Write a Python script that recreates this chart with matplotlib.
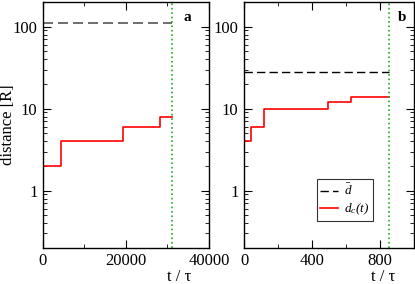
import matplotlib
matplotlib.use('Agg')
import matplotlib.pyplot as plt
from matplotlib.ticker import LogLocator, NullFormatter, MultipleLocator

plt.rcParams['font.family'] = ['Liberation Serif', 'DejaVu Serif']
plt.rcParams['mathtext.fontset'] = 'custom'
plt.rcParams['mathtext.rm'] = 'Liberation Serif:italic'
plt.rcParams['mathtext.it'] = 'Liberation Serif:italic'

# panel a
t_a = [0, 4300, 19300, 28200, 31000]
dc_a = [2, 4, 6, 8, 8]
dbar_a = 110
tend_a = 31000

# panel b
t_b = [0, 0, 40, 118, 495, 630, 855]
dc_b = [2.4, 4, 6, 10, 12, 14, 14]
dbar_b = 28
tend_b = 855

fig = plt.figure(figsize=(4.15, 2.84), dpi=100)
ax1 = fig.add_axes([0.1036, 0.127, 0.400, 0.866])
ax2 = fig.add_axes([0.588, 0.127, 0.410, 0.866])

ax1.plot([0, tend_a], [dbar_a, dbar_a], color='#555555', ls=(0, (6, 3)), lw=1.2)
ax1.step(t_a, dc_a, where='post', color='red', lw=1.2)
ax1.axvline(tend_a, color='#22aa22', ls=':', lw=1.2)
ax1.set_xlim(0, 40000)
ax1.xaxis.set_major_locator(MultipleLocator(20000))
ax1.xaxis.set_minor_locator(MultipleLocator(10000))
ax1.set_ylabel('distance [R]', fontsize=12)
ax1.yaxis.set_label_coords(-0.21, 0.5)
ax1.yaxis.label.set_va('center')
ax1.text(0.87, 0.965, 'a', transform=ax1.transAxes, fontweight='bold', fontsize=11, ha='center', va='top')

ax2.plot([0, tend_b], [dbar_b, dbar_b], color='black', ls=(0, (6, 3)), lw=1.0, label=r'$\bar{d}$')
ax2.step(t_b, dc_b, where='post', color='red', lw=1.2, label=r'$d_c(t)$')
ax2.axvline(tend_b, color='#22aa22', ls=':', lw=1.2)
ax2.set_xlim(0, 1000)
ax2.xaxis.set_major_locator(MultipleLocator(400))
ax2.xaxis.set_minor_locator(MultipleLocator(200))
ax2.text(0.93, 0.965, 'b', transform=ax2.transAxes, fontweight='bold', fontsize=11, ha='center', va='top')
leg = ax2.legend(loc='lower right', bbox_to_anchor=(0.76, 0.11), fontsize=9.5, frameon=True,
                 fancybox=False, edgecolor='black', handlelength=1.3, borderpad=0.3,
                 labelspacing=0.25, handletextpad=0.5, borderaxespad=0)
leg.get_frame().set_linewidth(0.8)

for ax in (ax1, ax2):
    ax.set_yscale('log')
    ax.set_ylim(0.2, 200)
    ax.yaxis.set_minor_locator(LogLocator(base=10, subs=range(2, 10), numticks=10))
    ax.yaxis.set_minor_formatter(NullFormatter())
    ax.set_yticks([1, 10, 100])
    ax.set_yticklabels(['1', '10', '100'])
    ax.set_xlabel('t / τ', fontsize=12)
    ax.xaxis.set_label_coords(0.82, -0.085)
    ax.xaxis.label.set_va('top')
    ax.tick_params(which='both', direction='in', top=True, right=True, labelsize=12, pad=4)
    ax.tick_params(which='major', length=6)
    ax.tick_params(which='minor', length=3)
    for s in ax.spines.values():
        s.set_linewidth(1.0)

fig.savefig('out.png', dpi=100)
